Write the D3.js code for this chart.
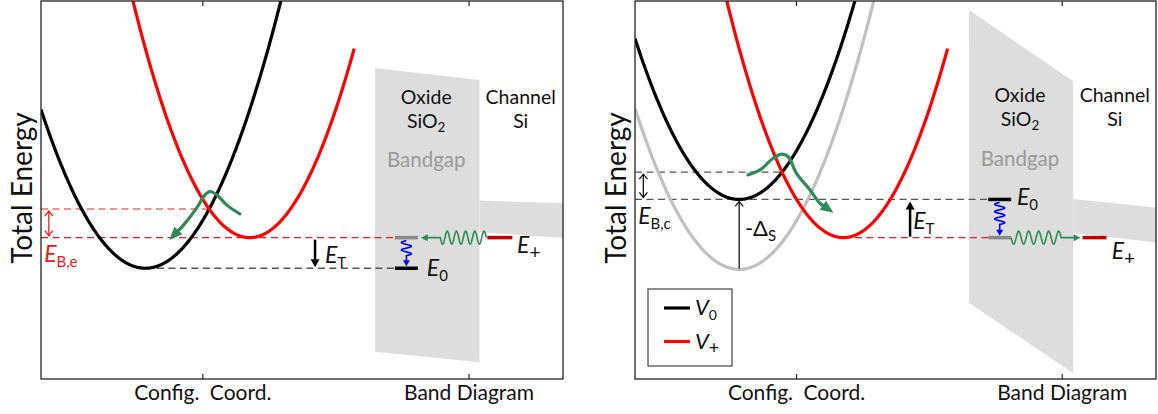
<!DOCTYPE html>
<html>
<head>
<meta charset="utf-8">
<script src="https://cdn.jsdelivr.net/npm/d3@7"></script>
<style>
  body { margin: 0; background: #fff; }
  svg { display: block; }
  text { font-family: Lato, "Noto Sans", sans-serif; }
</style>
</head>
<body>
<svg id="chart" width="1158" height="414"></svg>
<script>
// ---- axis ticks ----
const tickLabels = ["Config.\u2002Coord.", "Band Diagram"];
const tickPositions = [3.1, 8.2];

// ---- potential energy surfaces: minimum position, minimum energy, curvature ----
const leftV0 = { x0: 2.0, e0: 2.93, k: 1.05 };
const leftVplus = { x0: 4.0, e0: 3.74, k: 1.25, xEnd: 6.0 };
const rightV0 = { x0: 2.0, e0: 4.75, k: 1.065 };
const rightV0ref = { x0: 2.0, e0: 2.90, k: 1.065 };
const rightVplus = { x0: 4.0, e0: 3.74, k: 1.25, xEnd: 6.0 };

// ---- band diagrams: oxide and channel outlines [x, E] ----
const leftOxide = [[6.40, 8.23], [8.40, 7.91], [8.40, 0.44], [6.40, 0.72]];
const leftChannel = [[8.40, 4.72], [10, 4.65], [10, 3.74], [8.40, 3.88]];
const rightOxide = [[6.41, 9.76], [8.41, 7.88], [8.41, 0.15], [6.41, 2.02]];
const rightChannel = [[8.41, 4.76], [10, 4.54], [10, 3.61], [8.41, 3.86]];

// ---- defect levels: [from x, to x] ----
const trapSpan = [6.78, 7.22];
const channelSpanLeft = [8.55, 9.03];
const channelSpanRight = [8.59, 9.05];

// ---- transfer paths over the barrier [x, E] ----
const leftHop = [[3.81, 4.37], [3.56, 4.60], [3.37, 4.87], [3.24, 4.96], [3.14, 4.87],
                 [2.98, 4.52], [2.73, 4.07], [2.46, 3.68]];
const rightHop = [[2.17, 5.40], [2.40, 5.53], [2.65, 5.84], [2.82, 5.95], [2.94, 5.88],
                  [3.10, 5.44], [3.36, 5.00], [3.55, 4.65], [3.81, 4.40]];

// ---- arrow positions (x) ----
const barrierArrowX = [0.15, 0.16];
const trapArrowX = [5.25, 5.28];

const svg = d3.select("#chart");
const defs = svg.append("defs");
const TOP = 1, BOTTOM = 379;
const layout = [{ left: 41, right: 563 }, { left: 635, right: 1156 }];

const GREEN = "#2e8b57";
const RED = "#ff0000";

function crossing(a, b) {
  const A = a.k - b.k;
  const B = -2 * (a.k * a.x0 - b.k * b.x0);
  const C = a.k * a.x0 * a.x0 - b.k * b.x0 * b.x0 + a.e0 - b.e0;
  const d = Math.sqrt(B * B - 4 * A * C);
  const roots = [(-B - d) / (2 * A), (-B + d) / (2 * A)];
  const xc = roots.find(r => r >= Math.min(a.x0, b.x0) && r <= Math.max(a.x0, b.x0));
  return [xc, a.e0 + a.k * (xc - a.x0) ** 2];
}

function surface(p, xEnd) {
  const xs = d3.range(0, xEnd + 1e-9, 0.01);
  return xs.map(v => [v, p.e0 + p.k * (v - p.x0) ** 2]);
}

// straight arrow in pixel space; open = chevron head
function arrow(g, x1, y1, x2, y2, o) {
  const dx = x2 - x1, dy = y2 - y1, L = Math.hypot(dx, dy);
  const ux = dx / L, uy = dy / L;
  const hl = o.headLen, hw = o.headW / 2;
  function head(tx, ty, sx, sy) {
    const bx = tx - sx * hl, by = ty - sy * hl;
    const pts = [[bx - sy * hw, by + sx * hw], [tx, ty], [bx + sy * hw, by - sx * hw]];
    if (o.open) {
      g.append("path").attr("d", d3.line()(pts)).attr("fill", "none")
        .attr("stroke", o.color).attr("stroke-width", o.width);
    } else {
      g.append("path").attr("d", d3.line()(pts) + "Z").attr("fill", o.color);
    }
  }
  let sx1 = x1, sy1 = y1, sx2 = x2, sy2 = y2;
  if (!o.open) { sx2 = x2 - ux * hl * 0.8; sy2 = y2 - uy * hl * 0.8; }
  if (o.double && !o.open) { sx1 = x1 + ux * hl * 0.8; sy1 = y1 + uy * hl * 0.8; }
  g.append("line").attr("x1", sx1).attr("y1", sy1).attr("x2", sx2).attr("y2", sy2)
    .attr("stroke", o.color).attr("stroke-width", o.width);
  head(x2, y2, ux, uy);
  if (o.double) head(x1, y1, -ux, -uy);
}

// wavy arrow in pixel space
function wavy(g, x1, y1, x2, y2, o) {
  const dx = x2 - x1, dy = y2 - y1, L = Math.hypot(dx, dy);
  const ux = dx / L, uy = dy / L, nx = -uy, ny = ux;
  const pts = [];
  const n = 200;
  for (let i = 0; i <= n; i++) {
    const s = o.waveLen * i / n;
    const a = o.amp * Math.sin(2 * Math.PI * o.cycles * i / n) * o.sign;
    pts.push([x1 + ux * s + nx * a, y1 + uy * s + ny * a]);
  }
  const endS = L - o.headLen * 0.8;
  pts.push([x1 + ux * endS, y1 + uy * endS]);
  g.append("path").attr("d", d3.line()(pts)).attr("fill", "none")
    .attr("stroke", o.color).attr("stroke-width", o.width);
  const bx = x2 - ux * o.headLen, by = y2 - uy * o.headLen, hw = o.headW / 2;
  g.append("path")
    .attr("d", d3.line()([[bx + nx * hw, by + ny * hw], [x2, y2], [bx - nx * hw, by - ny * hw]]) + "Z")
    .attr("fill", o.color);
}

// label with italic symbol and upright subscript
function mathLabel(g, px, py, main, sub, o) {
  const t = g.append("text").attr("x", px).attr("y", py)
    .attr("fill", o.color || "#111").attr("font-size", o.size || 22);
  t.append("tspan").attr("font-style", o.upright ? "normal" : "italic").text(main);
  t.append("tspan").attr("font-size", o.subSize || 15).attr("dy", o.subDy || 5)
    .attr("dx", o.subDx || 0).text(sub);
  return t;
}

function drawPanel(idx, cfg) {
  const lay = layout[idx];
  const x = d3.scaleLinear().domain([0, 10]).range([lay.left, lay.right]);
  const y = d3.scaleLinear().domain([0, 10]).range([BOTTOM, TOP]);
  const g = svg.append("g");
  const clipId = "clip" + idx;
  defs.append("clipPath").attr("id", clipId).append("rect")
    .attr("x", lay.left).attr("y", TOP).attr("width", lay.right - lay.left).attr("height", BOTTOM - TOP);
  const plot = g.append("g").attr("clip-path", `url(#${clipId})`);
  const line = d3.line().x(d => x(d[0])).y(d => y(d[1]));

  // band diagram
  plot.append("path").attr("d", line(cfg.oxide) + "Z").attr("fill", "#dddddd");
  plot.append("path").attr("d", line(cfg.channel) + "Z").attr("fill", "#dddddd");

  // reference energies (dashed)
  cfg.dashes.forEach(d => {
    plot.append("line").attr("x1", x(d.from)).attr("x2", x(d.to))
      .attr("y1", y(d.e)).attr("y2", y(d.e))
      .attr("stroke", d.color).attr("stroke-opacity", d.opacity || 1)
      .attr("stroke-width", 1.3).attr("stroke-dasharray", "7,4.5");
  });

  // energy surfaces
  cfg.curves.forEach(c => {
    plot.append("path").attr("d", line(surface(c.p, c.xEnd)))
      .attr("fill", "none").attr("stroke", c.color).attr("stroke-width", 3.2);
  });

  // defect levels
  cfg.levels.forEach(l => {
    plot.append("line").attr("x1", x(l.span[0])).attr("x2", x(l.span[1]))
      .attr("y1", y(l.e)).attr("y2", y(l.e)).attr("stroke", l.color).attr("stroke-width", 3.5);
  });

  // charge-transfer path over the barrier
  const hopPx = cfg.hop.map(d => [x(d[0]), y(d[1])]);
  const n = hopPx.length;
  const tip = hopPx[n - 1], prev = hopPx[n - 2];
  const hdx = tip[0] - prev[0], hdy = tip[1] - prev[1], hL = Math.hypot(hdx, hdy);
  const hu = [hdx / hL, hdy / hL];
  const pathPts = hopPx.slice(0, n - 1).concat([[tip[0] - hu[0] * 8, tip[1] - hu[1] * 8]]);
  g.append("path").attr("d", d3.line().curve(d3.curveCatmullRom.alpha(0.5))(pathPts))
    .attr("fill", "none").attr("stroke", GREEN).attr("stroke-width", 3.2).attr("stroke-linecap", "round");
  arrow(g, tip[0] - hu[0] * 10, tip[1] - hu[1] * 10, tip[0], tip[1],
    { color: GREEN, width: 0.1, headLen: 13, headW: 11 });

  cfg.extras(g, x, y);

  // axis frame and ticks
  g.append("rect").attr("x", lay.left).attr("y", TOP).attr("width", lay.right - lay.left)
    .attr("height", BOTTOM - TOP).attr("fill", "none").attr("stroke", "#222").attr("stroke-width", 1.3);
  tickPositions.forEach((t, i) => {
    g.append("line").attr("x1", x(t)).attr("x2", x(t)).attr("y1", BOTTOM).attr("y2", BOTTOM - 5)
      .attr("stroke", "#222").attr("stroke-width", 1.2);
    g.append("line").attr("x1", x(t)).attr("x2", x(t)).attr("y1", TOP).attr("y2", TOP + 5)
      .attr("stroke", "#222").attr("stroke-width", 1.2);
    g.append("text").attr("x", x(t)).attr("y", 400).attr("text-anchor", "middle")
      .attr("font-size", 21).attr("fill", "#111").text(tickLabels[i]);
  });
  g.append("text").attr("transform", `translate(${lay.left - 9},188) rotate(-90)`)
    .attr("text-anchor", "middle").attr("font-size", 28).attr("fill", "#111").text("Total Energy");

  // band diagram captions (two-line blocks)
  const cap = cfg.captions;
  const capSize = 19.5;
  const rowGap = y(cap.row2) - y(cap.row1);
  const oxide = g.append("text").attr("x", x(cap.oxideX)).attr("y", y(cap.row1))
    .attr("text-anchor", "middle").attr("font-size", capSize).attr("fill", "#111");
  oxide.append("tspan").attr("x", x(cap.oxideX)).text("Oxide");
  oxide.append("tspan").attr("x", x(cap.oxideX)).attr("dy", rowGap).text("SiO");
  oxide.append("tspan").attr("font-size", 13.5).attr("dy", 4).text("2");
  const chan = g.append("text").attr("x", x(cap.channelX)).attr("y", y(cap.row1))
    .attr("text-anchor", "middle").attr("font-size", capSize).attr("fill", "#111");
  chan.append("tspan").attr("x", x(cap.channelX)).text("Channel");
  chan.append("tspan").attr("x", x(cap.channelX)).attr("dy", rowGap).text("Si");
  g.append("text").attr("x", x(cap.oxideX)).attr("y", y(cap.row3))
    .attr("text-anchor", "middle").attr("font-size", 20.5).attr("fill", "#999").text("Bandgap");

  return { x, y, g };
}

// ---------------- left panel: emission ----------------
const cL = crossing(leftV0, leftVplus);
drawPanel(0, {
  oxide: leftOxide, channel: leftChannel, hop: leftHop,
  captions: { oxideX: 7.38, channelX: 9.19, row1: 7.27, row2: 6.63, row3: 5.61 },
  dashes: [
    { from: 0, to: cL[0], e: cL[1], color: "#e02020", opacity: 0.65 },
    { from: 0, to: trapSpan[0], e: leftVplus.e0, color: "#e02020" },
    { from: leftV0.x0, to: trapSpan[0], e: leftV0.e0, color: "#555" }
  ],
  curves: [
    { p: leftV0, xEnd: 10, color: "#000" },
    { p: leftVplus, xEnd: leftVplus.xEnd, color: RED }
  ],
  levels: [
    { span: trapSpan, e: leftVplus.e0, color: "#888" },
    { span: trapSpan, e: leftV0.e0, color: "#000" },
    { span: channelSpanLeft, e: leftVplus.e0, color: "#c00000" }
  ],
  extras: (g, x, y) => {
    arrow(g, x(barrierArrowX[0]), y(cL[1]) + 2, x(barrierArrowX[0]), y(leftVplus.e0) - 2,
      { color: "#e02020", width: 1.3, headLen: 5, headW: 8, open: true, double: true });
    arrow(g, x(trapArrowX[0]), y(leftVplus.e0) + 2, x(trapArrowX[0]), y(leftV0.e0) - 1,
      { color: "#000", width: 2.5, headLen: 8, headW: 9 });
    wavy(g, x(channelSpanLeft[0]) - 1, y(leftVplus.e0), x(trapSpan[1]) + 3, y(leftVplus.e0),
      { color: GREEN, width: 1.6, amp: 6.5, cycles: 5, waveLen: 46, headLen: 7, headW: 7, sign: 1 });
    wavy(g, x(7.0), y(leftVplus.e0) + 3, x(7.0), y(leftV0.e0) - 2,
      { color: "#0000ff", width: 1.6, amp: 5, cycles: 2, waveLen: 15, headLen: 6, headW: 7, sign: 1 });
    mathLabel(g, x(0.06), y(3.09), "E", "B,e", { color: "#e02020", size: 23 });
    mathLabel(g, x(5.44), y(3.07), "E", "T", { size: 23 });
    mathLabel(g, x(7.39), y(2.72), "E", "0", { size: 23 });
    mathLabel(g, x(9.12), y(3.33), "E", "+", { size: 23, subSize: 19, subDy: 6 });
  }
});

// ---------------- right panel: capture ----------------
const cR = crossing(rightV0, rightVplus);
drawPanel(1, {
  oxide: rightOxide, channel: rightChannel, hop: rightHop,
  captions: { oxideX: 7.39, channelX: 9.21, row1: 7.33, row2: 6.69, row3: 5.63 },
  dashes: [
    { from: 0, to: cR[0], e: cR[1], color: "#555" },
    { from: 0, to: trapSpan[0], e: rightV0.e0, color: "#555" },
    { from: rightVplus.x0, to: trapSpan[0], e: rightVplus.e0, color: "#e02020" }
  ],
  curves: [
    { p: rightV0ref, xEnd: 10, color: "#c0c0c0" },
    { p: rightV0, xEnd: 10, color: "#000" },
    { p: rightVplus, xEnd: rightVplus.xEnd, color: RED }
  ],
  levels: [
    { span: trapSpan, e: rightV0.e0, color: "#000" },
    { span: trapSpan, e: rightVplus.e0, color: "#888" },
    { span: channelSpanRight, e: rightVplus.e0, color: "#c00000" }
  ],
  extras: (g, x, y) => {
    arrow(g, x(barrierArrowX[1]), y(cR[1]) + 2, x(barrierArrowX[1]), y(rightV0.e0) - 2,
      { color: "#111", width: 1.3, headLen: 5, headW: 8, open: true, double: true });
    arrow(g, x(rightV0.x0), y(rightV0ref.e0) - 1, x(rightV0.x0), y(rightV0.e0) + 2,
      { color: "#111", width: 1.3, headLen: 5, headW: 8, open: true });
    arrow(g, x(trapArrowX[1]), y(rightVplus.e0) - 1, x(trapArrowX[1]), y(rightV0.e0) + 2,
      { color: "#000", width: 2.5, headLen: 8, headW: 9 });
    wavy(g, x(7.0), y(rightV0.e0) + 3, x(7.0), y(rightVplus.e0) - 2,
      { color: "#0000ff", width: 1.6, amp: 5, cycles: 3, waveLen: 22, headLen: 6, headW: 7, sign: 1 });
    wavy(g, x(trapSpan[1]), y(rightVplus.e0), x(channelSpanRight[0]) - 2, y(rightVplus.e0),
      { color: GREEN, width: 1.6, amp: 6.5, cycles: 5, waveLen: 50, headLen: 7, headW: 7, sign: 1 });
    mathLabel(g, x(0.06), y(4.10), "E", "B,c", { size: 23 });
    mathLabel(g, x(2.11), y(3.78), "-Δ", "S", { size: 22, upright: true });
    mathLabel(g, x(5.34), y(3.97), "E", "T", { size: 23 });
    mathLabel(g, x(7.33), y(4.60), "E", "0", { size: 23 });
    mathLabel(g, x(9.15), y(3.17), "E", "+", { size: 23, subSize: 19, subDy: 6 });

    // legend
    const lx = x(0) + 13, ly = 289;
    g.append("rect").attr("x", lx).attr("y", ly).attr("width", 84).attr("height", 77)
      .attr("fill", "#fff").attr("stroke", "#444").attr("stroke-width", 1.2);
    [["#000", "0", 0], [RED, "+", 1]].forEach(([col, sub, i]) => {
      const yy = ly + 19 + i * 33.5;
      g.append("line").attr("x1", lx + 16).attr("x2", lx + 42).attr("y1", yy).attr("y2", yy)
        .attr("stroke", col).attr("stroke-width", 3.2);
      mathLabel(g, lx + 47, yy + 7, "V", sub, { size: 22, subSize: sub === "+" ? 18 : 14 });
    });
  }
});
</script>
</body>
</html>
